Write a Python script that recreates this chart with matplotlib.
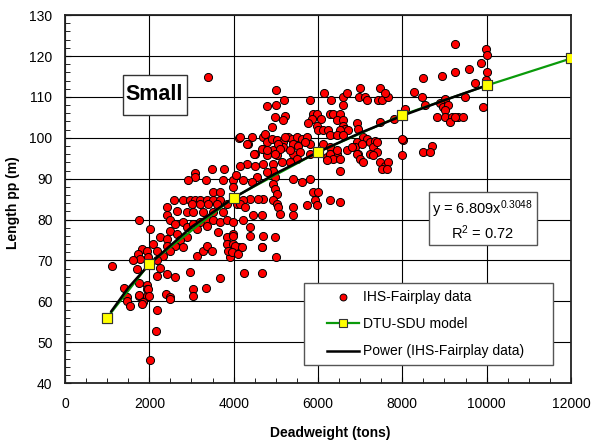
import matplotlib
matplotlib.use("Agg")
import matplotlib.pyplot as plt
from matplotlib.patches import Rectangle
from matplotlib.ticker import MultipleLocator

# --- dados ---
# IHS-Fairplay: deadweight (tons) e comprimento pp (m)
dwt = [
    3400, 4130, 4995, 5200, 4800, 5000, 4970, 5215, 5175, 4900,
    5815, 6140, 6305, 6600, 6680, 6995, 6980, 7115, 7155,
    7430, 7510, 7470, 7665, 7590, 6600,
    5875, 5985, 6060, 5850, 6285, 6360, 6520, 6440, 6600, 6600, 6640, 6520, 6705, 6915, 6955,
    5755, 5985, 6005, 6125, 6230, 6285, 6440, 6600,
    7810, 7470, 8020, 7985,
    7075, 7155, 6915, 7230, 7350, 7310, 6875, 6955, 7230, 7390,
    4705, 4780, 4900, 5020, 5175, 5295, 5375, 5495, 5610, 5730, 5415, 5530, 5175, 4940,
    4705, 4505, 4780, 5020, 5415, 5810, 6125, 6285, 6440, 6205, 4150, 4425, 4345, 4665,
    9245, 9975, 10000, 9865, 9580, 9245, 8945, 8495, 9998, 9720, 9975, 8280, 8470, 8535,
    9010, 8890, 8970, 9090, 9485, 9010, 8825, 9010, 9170, 9325, 9445, 9130, 9245, 9920,
    8060, 7985, 8695, 8495, 8655,
    3480, 3780, 3080, 3080, 2910, 3335, 3755, 3990, 3990, 4045,
    2590, 2805, 2965, 3080, 3200, 3360, 3515, 3675, 3515, 3675,
    3005, 3200, 3400, 3595, 3835, 4070,
    2410, 2650, 2410, 2885, 3045, 3280, 3515, 3755,
    2490, 2610, 2805, 2885, 3045, 3200, 3360, 3515, 3675, 3835, 3990,
    1760, 2015, 2490, 2650, 2885, 3120, 3360, 3635, 3835, 3990,
    2255, 2410, 2725, 2410, 2610, 2805, 2490, 2095, 2175, 2330,
    1815, 1935, 1740, 1780, 1605, 1975, 2175,
    3120, 3280, 3360, 3480, 3835, 3990, 3910, 3875, 4125,
    1120, 1715, 2255, 2410, 2610, 2175, 2965, 3675, 1760, 1400,
    1950, 1950, 1950, 1760, 2395, 2490, 3045, 3345, 3025, 1460,
    1460, 1540, 1755, 1855, 1815, 1975, 1990, 2175, 2160, 2015, 2490,
    4310, 4480, 4740, 4780, 5060, 5100, 5215, 5690, 4980, 5335, 5570, 5810, 5495, 5335,
    5135, 4940, 4705, 4505, 4310, 4150, 4940, 4780, 4545, 4230, 4425, 4980, 4940, 4980,
    5020, 4940, 5020, 5060, 4705, 4585, 4385, 4230, 4150, 4270, 4465, 4665, 5100, 5415,
    5415, 4230, 4385, 3990, 4385, 4705, 4980, 4030, 4190, 4665,
    5415, 5610, 5810, 5890, 6005, 5930, 5730, 5965, 6285, 6520,
    6285, 6440, 6360, 6520, 6205, 6680, 6795, 7035, 7390, 6915, 6995, 7075, 7310, 7470,
    7590, 7665, 7510, 7625, 6520,
    4680, 4995, 4245, 4680, 3950, 4100,
]
length_pp = [
    114.9, 100.0, 111.6, 109.3, 107.7, 108.1, 105.1, 105.4, 104.3, 102.6,
    109.2, 111.0, 109.2, 110.1, 111.0, 112.1, 110.1, 110.1, 109.2,
    109.2, 109.2, 112.3, 110.1, 111.0, 108.1,
    105.7, 105.7, 104.7, 104.7, 105.7, 105.7, 105.7, 104.4, 104.4, 103.0, 102.2, 102.0, 102.0, 103.5, 102.2,
    103.6, 103.0, 101.8, 101.8, 101.8, 100.6, 100.6, 100.6,
    104.7, 103.9, 99.5, 95.7,
    100.3, 99.8, 99.0, 99.0, 99.1, 97.7, 97.7, 96.1, 96.1, 96.5,
    100.2, 99.0, 99.8, 99.4, 99.0, 100.2, 99.8, 100.2, 99.8, 100.2, 98.6, 98.1, 97.7, 96.9,
    97.3, 96.1, 95.7, 95.7, 96.1, 98.6, 98.6, 97.7, 96.1, 95.3, 100.2, 100.2, 98.6, 97.3,
    122.9, 121.7, 120.2, 118.2, 116.9, 116.1, 115.2, 114.6, 116.1, 113.4, 114.1, 111.2, 110.1, 108.1,
    109.6, 108.5, 107.5, 108.1, 110.1, 106.7, 105.1, 105.1, 105.1, 105.1, 105.1, 103.8, 105.1, 107.5,
    107.1, 99.8, 97.9, 96.5, 96.5,
    92.3, 92.3, 91.3, 90.5, 89.6, 89.6, 89.6, 89.6, 87.9, 90.8,
    84.9, 84.9, 84.9, 84.9, 84.9, 84.9, 84.9, 84.9, 86.7, 86.7,
    83.9, 83.9, 83.9, 83.9, 83.9, 83.9,
    83.0, 82.2, 81.0, 81.8, 81.8, 81.8, 81.8, 81.8,
    79.8, 79.0, 79.3, 78.1, 79.0, 79.3, 79.8, 79.8, 79.3, 79.8, 79.3,
    80.0, 77.7, 77.3, 76.5, 75.7, 77.7, 78.5, 76.9, 75.7, 76.5,
    75.7, 75.3, 74.9, 73.6, 73.6, 73.2, 72.4, 74.0, 72.4, 71.2,
    72.8, 72.4, 71.6, 70.4, 70.0, 70.8, 70.0,
    71.2, 72.4, 73.6, 72.4, 74.0, 74.0, 70.8, 72.4, 73.2,
    68.7, 67.9, 68.2, 66.7, 66.0, 66.3, 67.3, 65.7, 64.6, 63.2,
    64.1, 63.0, 61.4, 61.4, 61.8, 61.0, 63.0, 63.2, 61.4, 61.0,
    60.1, 58.8, 61.5, 59.9, 59.3, 63.0, 61.2, 57.9, 52.8, 45.7, 60.6,
    98.6, 96.1, 101.0, 96.9, 98.6, 97.3, 100.2, 99.0, 96.1, 96.9, 96.5, 96.1, 94.9, 94.1,
    94.1, 93.6, 93.6, 93.2, 93.6, 93.2, 92.0, 91.6, 90.4, 89.6, 89.2, 90.4, 88.8, 87.5,
    86.3, 84.7, 83.9, 83.0, 85.1, 85.1, 85.1, 84.7, 83.9, 83.0, 81.0, 81.0, 81.4, 83.0,
    81.0, 79.8, 78.1, 76.1, 76.1, 76.1, 75.7, 73.6, 73.2, 73.2,
    89.9, 89.2, 89.9, 86.7, 86.7, 84.8, 83.6, 83.6, 84.7, 84.3,
    96.1, 96.9, 94.9, 94.9, 94.5, 96.9, 97.7, 98.6, 99.0, 96.1, 94.9, 94.1, 95.7, 94.1,
    93.2, 94.1, 92.4, 92.4, 92.0,
    73.4, 70.8, 66.9, 66.9, 72.0, 71.5,
]

# Modelo DTU-SDU
model_dwt = [1000, 2000, 4000, 6000, 8000, 10000, 12000]
model_length = [56.0, 69.2, 85.4, 96.5, 105.6, 112.8, 119.4]

# Linha de tendência (potência)
power_dwt = [1100, 1500, 2000, 3000, 4000, 5000, 6000, 7000, 8000, 9000, 10000]
power_length = [57.6, 63.3, 69.1, 78.2, 85.3, 91.3, 96.5, 101.2, 105.4, 109.2, 112.8]

x_ticks = [0, 2000, 4000, 6000, 8000, 10000, 12000]
y_ticks = [40, 50, 60, 70, 80, 90, 100, 110, 120, 130]

plt.rcParams['font.family'] = ['Liberation Sans', 'DejaVu Sans']
plt.rcParams['mathtext.default'] = 'regular'

fig = plt.figure(figsize=(5.93, 4.45), dpi=100)
ax = fig.add_axes([0.1096, 0.139, 0.8533, 0.827])

ax.scatter(dwt, length_pp, s=34, c='#ff0000', edgecolors='black', linewidths=0.7,
           zorder=3, label='IHS-Fairplay data')
# linha verde por baixo da tendência, quadrados por cima
ax.plot(model_dwt, model_length, color='#0a9a0a', lw=1.6, marker='s', ms=7,
        mfc='#ffff00', mec='#333333', mew=0.8, zorder=4, label='DTU-SDU model')
ax.plot(power_dwt, power_length, color='black', lw=1.8, zorder=5,
        label='Power (IHS-Fairplay data)')
ax.plot(model_dwt, model_length, ls='none', marker='s', ms=7,
        mfc='#ffff00', mec='#333333', mew=0.8, zorder=6)

ax.set_xlim(0, 12000)
ax.set_ylim(40, 130)
ax.set_xticks(x_ticks)
ax.set_yticks(y_ticks)
ax.xaxis.set_minor_locator(MultipleLocator(500))
ax.yaxis.set_minor_locator(MultipleLocator(2))
ax.tick_params(which='both', direction='in', labelsize=10, color='black')
ax.tick_params(axis='x', which='major', length=4, pad=10)
ax.tick_params(axis='y', which='major', length=4, pad=9)
ax.tick_params(which='minor', length=3.5)
ax.grid(True, which='major', color='black', lw=0.8, zorder=1)
ax.set_axisbelow(True)
for sp in ax.spines.values():
    sp.set_linewidth(1.3)
    sp.set_color('#222222')

ax.set_xlabel('Deadweight (tons)', fontsize=10, fontweight='bold')
ax.set_ylabel('Length pp (m)', fontsize=10, fontweight='bold')
ax.xaxis.set_label_coords(0.524, -0.116)
ax.yaxis.set_label_coords(-0.088, 0.49)

# Caixa "Small"
ax.add_patch(Rectangle((0.114, 0.728), 0.1265, 0.109, transform=ax.transAxes,
                       facecolor='white', edgecolor='#333333', lw=1.0, zorder=7))
ax.text(0.177, 0.783, 'Small', transform=ax.transAxes, ha='center', va='center',
        fontsize=15.5, fontweight='bold', zorder=8)

# Caixa da equação
ax.add_patch(Rectangle((0.719, 0.375), 0.214, 0.144, transform=ax.transAxes,
                       facecolor='white', edgecolor='#555555', lw=1.0, zorder=7))
ax.text(0.826, 0.473, 'y = 6.809x$^{0.3048}$', transform=ax.transAxes, ha='center',
        va='center', fontsize=10.5, zorder=8)
ax.text(0.826, 0.410, 'R$^{2}$ = 0.72', transform=ax.transAxes, ha='center',
        va='center', fontsize=10.5, zorder=8)

# Legenda
ax.add_patch(Rectangle((0.472, 0.049), 0.492, 0.223, transform=ax.transAxes,
                       facecolor='white', edgecolor='#555555', lw=1.0, zorder=7))
leg = ax.legend(loc='center', bbox_to_anchor=(0.712, 0.160), frameon=False,
                fontsize=10, scatterpoints=1, numpoints=1, handlelength=2.3,
                handletextpad=0.3, labelspacing=0.95, markerscale=0.85)
leg.set_zorder(8)

fig.savefig('out.png', dpi=100)
